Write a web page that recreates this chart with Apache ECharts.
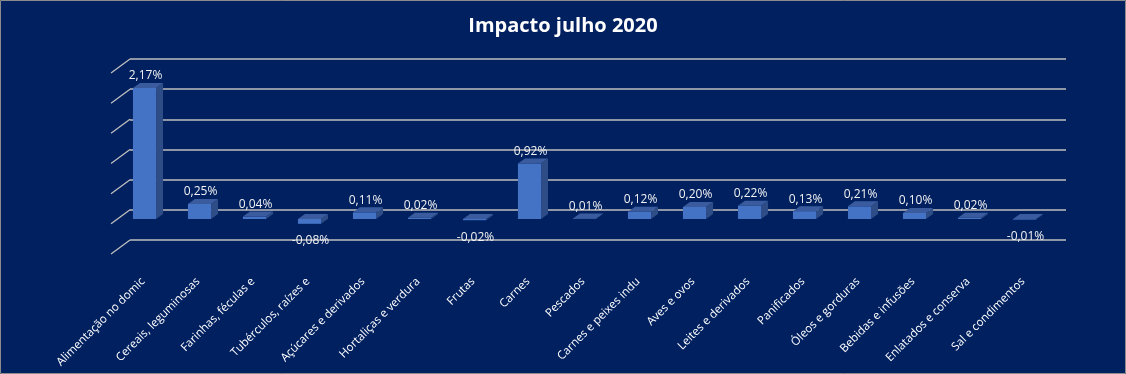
<!DOCTYPE html>
<html>
<head>
<meta charset="utf-8">
<script src="https://cdn.jsdelivr.net/npm/echarts@6/dist/echarts.min.js"></script>
<style>
html,body{margin:0;padding:0;background:#002060;}
#c{width:1126px;height:374px;}
</style>
</head>
<body>
<div id="c"></div>
<script>
const titleText = 'Impacto julho 2020';
const categories = ['Alimentação no domic', 'Cereais, leguminosas', 'Farinhas, féculas e', 'Tubérculos, raízes e', 'Açúcares e derivados', 'Hortaliças e verdura', 'Frutas', 'Carnes', 'Pescados', 'Carnes e peixes indu', 'Aves e ovos', 'Leites e derivados', 'Panificados', 'Óleos e gorduras', 'Bebidas e infusões', 'Enlatados e conserva', 'Sal e condimentos'];
const values = [2.17, 0.25, 0.04, -0.08, 0.11, 0.02, -0.02, 0.92, 0.01, 0.12, 0.20, 0.22, 0.13, 0.21, 0.10, 0.02, -0.01];
const gridValues = [-0.5, 0, 0.5, 1, 1.5, 2, 2.5];

const fmt = v => v.toFixed(2).replace('.', ',') + '%';
const DX = 7, DY = -5;

const chart = echarts.init(document.getElementById('c'));
chart.setOption({
  backgroundColor: '#002060',
  animation: false,
  title: {
    text: titleText, left: 'center', top: 11,
    textStyle: {color: '#ffffff', fontFamily: 'Open Sans', fontWeight: 'bold', fontSize: 20}
  },
  graphic: [{
    type: 'rect', silent: true, z: 100,
    shape: {x: 0.5, y: 0.5, width: 1125, height: 373},
    style: {fill: 'none', stroke: '#8c8c8c', lineWidth: 1}
  }],
  grid: [
    {left: 117, right: 74, top: 68, bottom: 124.8},
    {left: 130, right: 60, top: 59, bottom: 134}
  ],
  xAxis: [
    {
      type: 'category', gridIndex: 0, data: categories,
      axisLine: {show: false}, axisTick: {show: false},
      axisLabel: {
        rotate: 45, interval: 0, margin: 29, color: '#ffffff',
        fontFamily: 'Open Sans', fontSize: 11.5, padding: [0, 2, 0, 0]
      }
    },
    {type: 'value', gridIndex: 1, min: 0, max: 1, show: false}
  ],
  yAxis: [
    {type: 'value', gridIndex: 0, min: -0.5, max: 2.5, interval: 0.5, show: false, splitLine: {show: false}},
    {
      type: 'value', gridIndex: 1, min: -0.5, max: 2.5, interval: 0.5,
      axisLine: {show: false}, axisTick: {show: false}, axisLabel: {show: false},
      splitLine: {show: true, lineStyle: {color: '#BFBFBF', width: 1.5}}
    }
  ],
  series: [
    {
      type: 'custom', xAxisIndex: 1, yAxisIndex: 1, silent: true,
      data: gridValues.map(v => [0, v]),
      renderItem: function (params, api) {
        const p = api.coord([0, api.value(1)]);
        const cs = params.coordSys;
        return {
          type: 'line',
          shape: {x1: cs.x, y1: p[1], x2: cs.x - 19, y2: p[1] + 14},
          style: {stroke: '#BFBFBF', lineWidth: 1.3}
        };
      }
    },
    {
      type: 'custom', xAxisIndex: 0, yAxisIndex: 0, silent: true,
      data: values.map((v, i) => [i, v]),
      renderItem: function (params, api) {
        const i = api.value(0), v = api.value(1);
        const z = api.coord([i, 0]);
        const t = api.coord([i, v]);
        const w = api.size([1, 0])[0] * 0.42;
        const cx = z[0];
        const yTop = Math.min(z[1], t[1]);
        const yBot = Math.max(z[1], t[1]);
        const x0 = cx - w / 2, x1 = cx + w / 2;
        const children = [
          {
            type: 'polygon',
            shape: {points: [[x1, yTop], [x1 + DX, yTop + DY], [x1 + DX, yBot + DY], [x1, yBot]]},
            style: {fill: '#2E4C86'}
          },
          {
            type: 'rect',
            shape: {x: x0, y: yTop, width: w, height: yBot - yTop},
            style: {fill: '#4472C4'}
          },
          {
            type: 'polygon',
            shape: {points: [[x0, yTop], [x1, yTop], [x1 + DX, yTop + DY], [x0 + DX, yTop + DY]]},
            style: {fill: '#3A5C9E'}
          },
          {
            type: 'text',
            style: {
              text: fmt(v), x: cx + 1, y: v >= 0 ? yTop - 12 : yBot + 17,
              align: 'center', verticalAlign: 'middle',
              fill: '#F2F2F2', fontFamily: 'Open Sans', fontSize: 12
            }
          }
        ];
        return {type: 'group', children: children};
      }
    }
  ]
});
</script>
</body>
</html>
